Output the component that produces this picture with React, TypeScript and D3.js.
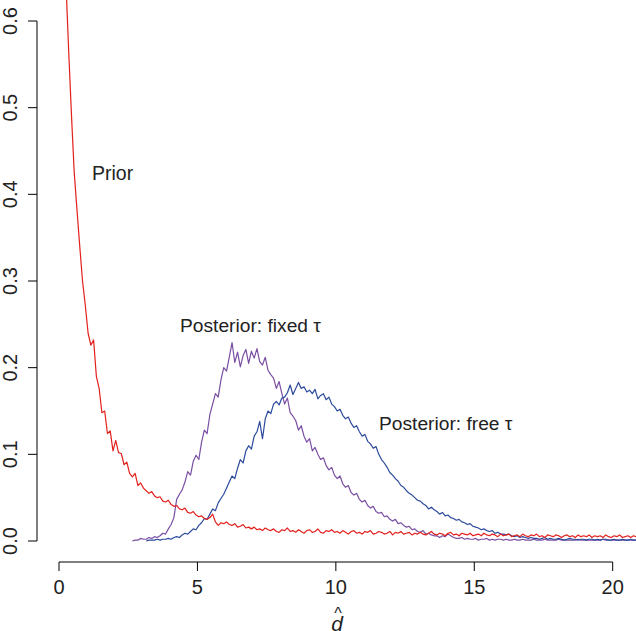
import React from "react";
import * as d3 from "d3";

// Histogram-style density estimates (bin width 0.1)
const binWidth = 0.1;

const priorStart = 0.05;
const priorValues = [
  1.4, 0.85, 0.645, 0.565, 0.492, 0.425, 0.382, 0.34, 0.3, 0.272,
  0.24, 0.226, 0.232, 0.19, 0.176, 0.148, 0.15, 0.124, 0.127, 0.104,
  0.116, 0.102, 0.101, 0.088, 0.091, 0.078, 0.074, 0.078, 0.064, 0.067,
  0.061, 0.058, 0.055, 0.057, 0.052, 0.05, 0.051, 0.046, 0.045, 0.047,
  0.042, 0.04, 0.041, 0.037, 0.036, 0.038, 0.033, 0.032, 0.034, 0.03,
  0.028, 0.029, 0.026, 0.025, 0.027, 0.031, 0.022, 0.018, 0.021, 0.02,
  0.022, 0.019, 0.018, 0.02, 0.016, 0.017, 0.019, 0.015, 0.016, 0.014,
  0.016, 0.013, 0.014, 0.012, 0.015, 0.013,
  0.012, 0.014, 0.011, 0.01, 0.013, 0.012, 0.015, 0.011, 0.012, 0.01,
  0.013, 0.011, 0.009, 0.012, 0.013, 0.01, 0.011, 0.014, 0.01, 0.009,
  0.012, 0.011, 0.013, 0.01,
  0.011, 0.009, 0.012, 0.01, 0.008, 0.011, 0.012, 0.009, 0.01, 0.008,
  0.011, 0.01, 0.012, 0.008, 0.009, 0.011, 0.01, 0.008, 0.009, 0.011,
  0.007, 0.01, 0.009, 0.011, 0.008, 0.009, 0.01, 0.007, 0.009, 0.008,
  0.01, 0.008, 0.007, 0.009, 0.011, 0.008, 0.007, 0.009, 0.008, 0.006,
  0.009, 0.01, 0.007, 0.008, 0.006, 0.009, 0.008, 0.007, 0.009, 0.006,
  0.007, 0.008, 0.006, 0.009, 0.007, 0.006, 0.008, 0.007, 0.005, 0.008,
  0.006, 0.007, 0.008, 0.005, 0.006, 0.007, 0.005, 0.008, 0.006, 0.005,
  0.007, 0.006, 0.008, 0.005, 0.006, 0.004, 0.007, 0.006, 0.005, 0.007,
  0.006, 0.004, 0.006, 0.007, 0.005, 0.006, 0.004, 0.007, 0.005, 0.006,
  0.005, 0.007, 0.004, 0.006, 0.005, 0.006, 0.004, 0.007, 0.005, 0.004,
  0.006, 0.005, 0.007, 0.004, 0.005, 0.006, 0.004, 0.006, 0.005,
];

const fixedStart = 2.65;
const fixedValues = [
  0.0, 0.001, 0.001, 0.003, 0.002, 0.002, 0.004, 0.003, 0.005, 0.004,
  0.006, 0.009, 0.008, 0.014, 0.019, 0.027, 0.048, 0.054, 0.059, 0.068,
  0.08, 0.076, 0.092, 0.099, 0.094, 0.114, 0.128, 0.124, 0.146, 0.158,
  0.17, 0.166, 0.186, 0.2, 0.196, 0.212, 0.229, 0.206, 0.218, 0.201,
  0.214, 0.221, 0.205, 0.219, 0.211, 0.222, 0.207, 0.203, 0.212, 0.197,
  0.192, 0.188, 0.176, 0.184, 0.17, 0.158, 0.165, 0.148, 0.144, 0.139,
  0.128, 0.133, 0.121, 0.114, 0.118, 0.104, 0.108, 0.1, 0.094, 0.096,
  0.087, 0.082, 0.085, 0.076, 0.072, 0.075, 0.066, 0.062, 0.064, 0.056,
  0.053, 0.055, 0.048, 0.045, 0.047, 0.041, 0.038, 0.04, 0.034, 0.032,
  0.033, 0.028, 0.029, 0.025, 0.023, 0.025, 0.02, 0.021, 0.018, 0.016,
  0.017, 0.013, 0.014, 0.011, 0.01, 0.012, 0.008, 0.009, 0.007, 0.006,
  0.006, 0.004, 0.006, 0.005, 0.008, 0.006, 0.004, 0.003,
  0.003, 0.004, 0.002, 0.003, 0.002, 0.002, 0.003, 0.001, 0.002, 0.002,
  0.003, 0.001, 0.002, 0.001, 0.002, 0.002, 0.001, 0.002, 0.001, 0.001,
  0.002, 0.001, 0.001, 0.002, 0.001, 0.001, 0.001, 0.002, 0.001, 0.001,
  0.001, 0.002, 0.001, 0.001, 0.001, 0.001, 0.002, 0.001, 0.001, 0.001,
  0.001, 0.001, 0.001, 0.002, 0.001, 0.001, 0.001, 0.001, 0.001, 0.001,
  0.001, 0.001, 0.002, 0.001, 0.001, 0.001, 0.001, 0.001, 0.001, 0.001,
  0.001, 0.001, 0.001, 0.001, 0.001,
];

const freeStart = 3.15;
const freeValues = [
  0.0, 0.001, 0.001, 0.001, 0.002, 0.001, 0.002, 0.002, 0.003, 0.002,
  0.004, 0.005, 0.004, 0.007, 0.009, 0.008, 0.011, 0.014, 0.013, 0.018,
  0.021, 0.026, 0.025, 0.031, 0.037, 0.035, 0.044, 0.049, 0.054, 0.061,
  0.068, 0.075, 0.072, 0.084, 0.094, 0.09, 0.104, 0.11, 0.106, 0.121,
  0.126, 0.138, 0.118, 0.141, 0.15, 0.147, 0.158, 0.161, 0.157, 0.165,
  0.166, 0.171, 0.18, 0.169, 0.176, 0.183, 0.176, 0.178, 0.172, 0.174,
  0.17, 0.175, 0.164, 0.168, 0.17, 0.163, 0.166, 0.158, 0.155, 0.15,
  0.152, 0.145, 0.141, 0.143, 0.136, 0.131, 0.133, 0.126, 0.121, 0.123,
  0.115, 0.112, 0.107, 0.109, 0.1, 0.094, 0.09, 0.085, 0.079, 0.076,
  0.072, 0.069, 0.064, 0.062, 0.058, 0.055, 0.053, 0.05, 0.047, 0.046,
  0.043, 0.041, 0.037, 0.039, 0.036, 0.034, 0.031, 0.033, 0.029, 0.03,
  0.027, 0.026, 0.024, 0.025, 0.022, 0.021, 0.019, 0.02, 0.017, 0.016,
  0.015, 0.013, 0.014, 0.012, 0.011, 0.012, 0.009, 0.01, 0.008, 0.008,
  0.007, 0.008, 0.006, 0.005, 0.006, 0.004, 0.005, 0.004, 0.003,
  0.004, 0.003, 0.003, 0.002, 0.003, 0.004, 0.002, 0.003, 0.002, 0.002,
  0.003, 0.002, 0.001, 0.002, 0.003, 0.002, 0.002, 0.001, 0.002, 0.002,
  0.001, 0.002, 0.002, 0.001, 0.002, 0.001, 0.002, 0.002, 0.001, 0.001,
  0.002, 0.001, 0.001, 0.002, 0.001, 0.001, 0.002, 0.001, 0.001,
];

const xTicks = [0, 5, 10, 15, 20];
const yTicks = [0.0, 0.1, 0.2, 0.3, 0.4, 0.5, 0.6];

const labelPrior = "Prior";
const labelFixed = "Posterior: fixed τ";
const labelFree = "Posterior: free τ";

const W = 636;
const H = 631;

export default function App() {
  const x = d3.scaleLinear().domain([0, 20]).range([59, 612.7]);
  const y = d3.scaleLinear().domain([0, 0.6]).range([541, 21]);

  const toPoints = (start: number, vals: number[]) =>
    vals.map((v, i) => [start + i * binWidth, v] as [number, number]);

  const line = d3
    .line<[number, number]>()
    .x((d) => x(d[0]))
    .y((d) => y(d[1]));

  const font = "'Liberation Sans', Arial, Helvetica, sans-serif";

  return (
    <svg
      width={W}
      height={H}
      style={{ position: "absolute", left: 0, top: 0, background: "#fff" }}
      fontFamily={font}
    >
      <defs>
        <clipPath id="plotclip">
          <rect x={0} y={0} width={W} height={H} />
        </clipPath>
      </defs>
      <g clipPath="url(#plotclip)" fill="none" strokeWidth={1.2} strokeLinejoin="round">
        <path d={line(toPoints(fixedStart, fixedValues)) || ""} stroke="#7a4fa3" />
        <path d={line(toPoints(freeStart, freeValues)) || ""} stroke="#2c4a9c" />
        <path d={line(toPoints(priorStart, priorValues)) || ""} stroke="#e3201c" />
      </g>

      {/* y axis */}
      <g stroke="#000" strokeWidth={1}>
        <line x1={37} x2={37} y1={y(0)} y2={y(0.6)} />
        {yTicks.map((t) => (
          <line key={t} x1={28} x2={37} y1={y(t)} y2={y(t)} />
        ))}
      </g>
      {yTicks.map((t) => (
        <text
          key={"yl" + t}
          transform={`translate(17,${y(t)}) rotate(-90)`}
          textAnchor="middle"
          fontSize={20}
          fill="#222"
        >
          {t.toFixed(1)}
        </text>
      ))}

      {/* x axis */}
      <g stroke="#000" strokeWidth={1}>
        <line x1={x(0)} x2={x(20)} y1={562} y2={562} />
        {xTicks.map((t) => (
          <line key={t} x1={x(t)} x2={x(t)} y1={562} y2={571} />
        ))}
      </g>
      {xTicks.map((t) => (
        <text
          key={"xl" + t}
          x={x(t)}
          y={594}
          textAnchor="middle"
          fontSize={20}
          fill="#222"
        >
          {t}
        </text>
      ))}
      <text x={338} y={619} textAnchor="middle" fontSize={16} fill="#222">
        ^
      </text>
      <text x={337} y={631} textAnchor="middle" fontSize={21} fontStyle="italic" fill="#222">
        d
      </text>

      {/* annotations */}
      <text x={92} y={180} fontSize={19.5} fill="#222">
        {labelPrior}
      </text>
      <text x={180} y={332} fontSize={19.2} fill="#222">
        {labelFixed}
      </text>
      <text x={379} y={430} fontSize={19.2} fill="#222">
        {labelFree}
      </text>
    </svg>
  );
}
